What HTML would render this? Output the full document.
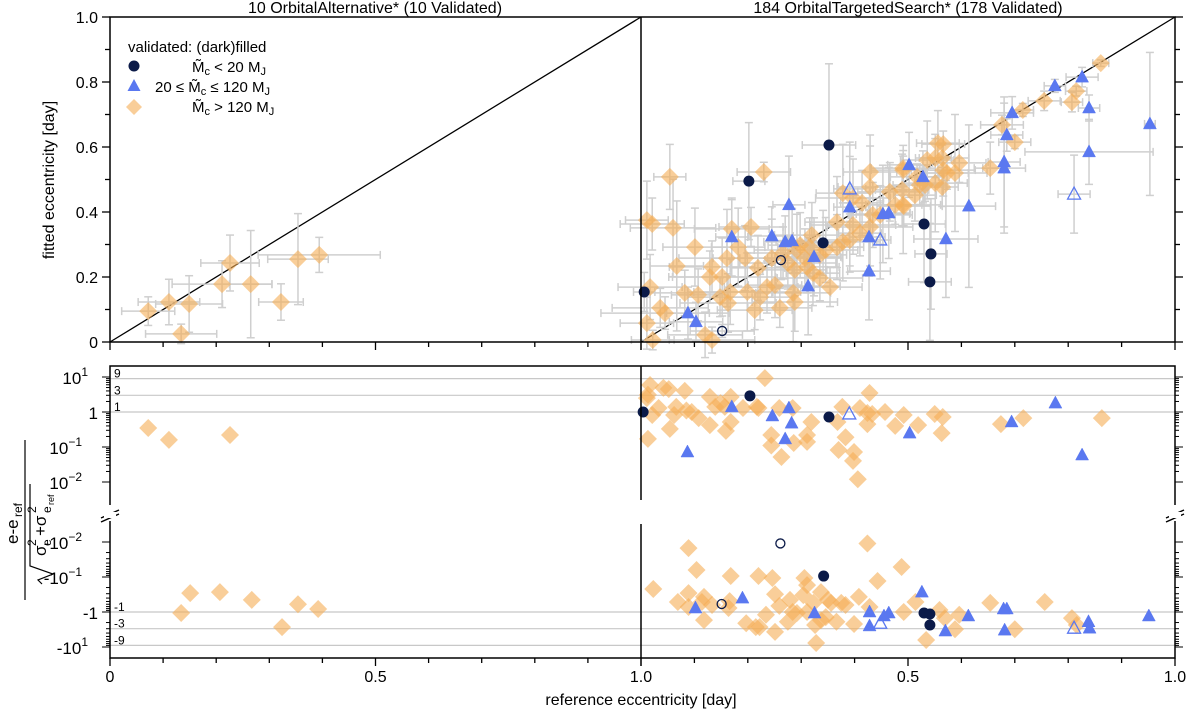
<!DOCTYPE html>
<html><head><meta charset="utf-8"><style>
html,body{margin:0;padding:0;background:#fff;}
svg{display:block;font-family:"Liberation Sans",Arial,sans-serif;}
</style></head><body>
<svg id="chart" width="1200" height="721" viewBox="0 0 1200 721" xmlns="http://www.w3.org/2000/svg">
<g id="grid"></g><g id="errs"></g><g id="marks"></g><g id="axes"></g>
</svg>
<script>
// ---- Left panel (OrbitalAlternative) ----
const refL   = [0.072,0.111,0.134,0.149,0.211,0.226,0.265,0.322,0.354,0.394];
const fitL   = [0.095,0.123,0.025,0.117,0.178,0.243,0.178,0.123,0.255,0.268];
const refErrL= [0.050,0.058,0.067,0.063,0.094,0.055,0.040,0.042,0.057,0.115];
const fitErrL= [0.044,0.070,0.030,0.087,0.072,0.086,0.165,0.056,0.140,0.054];
const resRefL= [0.072,0.111,0.134,0.151,0.207,0.226,0.267,0.324,0.354,0.392];
const residL = [0.35,0.16,-1.07,-0.29,-0.27,0.22,-0.45,-2.7,-0.6,-0.82];

// ---- Right panel orange (Mc > 120) ----
const refO=[0.054,0.230,0.011,0.021,0.060,0.067,0.170,0.206,0.182,0.133,0.161,0.195,0.129,0.152,0.167,0.148,0.107,0.082,0.017,0.036,0.045,0.011,0.022,0.120,0.133,0.163,0.199,0.213,0.223,0.236,0.251,0.260,0.288,0.285,0.219,0.245,0.275,0.292,0.316,0.320,0.311,0.322,0.335,0.354,0.367,0.378,0.367,0.397,0.378,0.397,0.414,0.429,0.429,0.429,0.434,0.466,0.489,0.491,0.491,0.536,0.551,0.556,0.266,0.298,0.861,0.815,0.807,0.755,0.715,0.676,0.700,0.654,0.596,0.588,0.566,0.551,0.564,0.566,0.573,0.564,0.532,0.517,0.491,0.492,0.288,0.307,0.335,0.346,0.391,0.410,0.448,0.476,0.513,0.522,0.101];
const fitO=[0.508,0.523,0.375,0.363,0.351,0.234,0.348,0.354,0.292,0.231,0.258,0.258,0.200,0.200,0.154,0.138,0.145,0.151,0.169,0.105,0.089,0.058,0.006,0.022,0.006,0.120,0.154,0.098,0.138,0.169,0.175,0.105,0.123,0.151,0.228,0.258,0.243,0.283,0.292,0.329,0.231,0.212,0.197,0.169,0.292,0.308,0.369,0.360,0.458,0.443,0.428,0.523,0.477,0.354,0.391,0.462,0.468,0.422,0.529,0.560,0.489,0.612,0.274,0.298,0.858,0.772,0.738,0.742,0.714,0.668,0.615,0.535,0.551,0.520,0.609,0.566,0.566,0.529,0.520,0.477,0.483,0.508,0.535,0.418,0.222,0.258,0.268,0.283,0.314,0.335,0.391,0.422,0.452,0.483,0.292];
const xeO=[0.030,0.050,0.040,0.060,0.080,0.050,0.070,0.060,0.050,0.080,0.090,0.060,0.070,0.100,0.080,0.060,0.050,0.070,0.060,0.090,0.120,0.050,0.040,0.070,0.080,0.090,0.100,0.070,0.060,0.080,0.050,0.060,0.080,0.070,0.050,0.060,0.090,0.080,0.060,0.070,0.060,0.050,0.080,0.060,0.050,0.070,0.060,0.080,0.050,0.070,0.040,0.050,0.060,0.080,0.040,0.060,0.050,0.070,0.060,0.050,0.060,0.040,0.070,0.060,0.015,0.020,0.020,0.030,0.020,0.040,0.030,0.030,0.050,0.060,0.040,0.030,0.050,0.060,0.040,0.030,0.040,0.050,0.060,0.050,0.060,0.070,0.050,0.060,0.050,0.040,0.060,0.050,0.040,0.050,0.060];
const yeO=[0.100,0.030,0.120,0.080,0.150,0.200,0.090,0.060,0.120,0.080,0.150,0.100,0.080,0.120,0.100,0.060,0.080,0.070,0.100,0.060,0.050,0.080,0.030,0.070,0.040,0.090,0.120,0.060,0.070,0.080,0.100,0.060,0.090,0.150,0.100,0.120,0.080,0.110,0.090,0.100,0.080,0.100,0.070,0.060,0.100,0.120,0.140,0.090,0.150,0.120,0.100,0.080,0.160,0.120,0.100,0.090,0.110,0.150,0.060,0.120,0.150,0.100,0.080,0.100,0.010,0.015,0.030,0.030,0.020,0.030,0.020,0.080,0.060,0.180,0.040,0.060,0.040,0.080,0.050,0.060,0.050,0.040,0.070,0.060,0.080,0.090,0.060,0.100,0.080,0.070,0.090,0.060,0.080,0.060,0.120];

// ---- Right panel blue triangles (20 <= Mc <= 120) ----
const refB =[0.170,0.245,0.277,0.270,0.283,0.324,0.313,0.088,0.103,0.391,0.427,0.427,0.502,0.528,0.453,0.464,0.614,0.571,0.680,0.680,0.685,0.695,0.775,0.826,0.839,0.839,0.953,0.391,0.448,0.811];
const fitB =[0.323,0.326,0.422,0.308,0.311,0.262,0.172,0.089,0.062,0.415,0.218,0.323,0.545,0.508,0.394,0.397,0.418,0.317,0.554,0.535,0.637,0.705,0.788,0.815,0.720,0.585,0.671,0.471,0.314,0.455];
const xeB  =[0.030,0.040,0.030,0.040,0.030,0.050,0.060,0.040,0.050,0.030,0.040,0.030,0.040,0.030,0.050,0.040,0.050,0.060,0.030,0.040,0.030,0.040,0.020,0.030,0.020,0.120,0.010,0.030,0.020,0.030];
const yeB  =[0.120,0.090,0.150,0.080,0.100,0.120,0.150,0.080,0.060,0.200,0.150,0.120,0.100,0.080,0.150,0.140,0.250,0.180,0.200,0.200,0.050,0.050,0.020,0.030,0.040,0.100,0.220,0.100,0.120,0.120];
const openB=[0,0,0,0,0,0,0,0,0,0,0,0,0,0,0,0,0,0,0,0,0,0,0,0,0,0,0,1,1,1];

// ---- Right panel dark circles (Mc < 20) ----
const refC =[0.352,0.202,0.006,0.341,0.530,0.543,0.541,0.262,0.152];
const fitC =[0.606,0.495,0.154,0.305,0.363,0.271,0.185,0.252,0.034];
const xeC  =[0.050,0.030,0.020,0.040,0.040,0.030,0.040,0.030,0.060];
const yeC  =[0.250,0.180,0.060,0.100,0.180,0.170,0.180,0.060,0.020];
const openC=[0,0,0,0,0,0,0,1,1];

// ---- Right residual panel ----
const resRefO=[0.017,0.013,0.042,0.052,0.082,0.232,0.011,0.033,0.021,0.062,0.066,0.085,0.095,0.108,0.054,0.013,0.129,0.129,0.139,0.149,0.157,0.168,0.168,0.159,0.191,0.217,0.220,0.259,0.284,0.244,0.244,0.263,0.286,0.311,0.311,0.319,0.368,0.377,0.383,0.370,0.399,0.397,0.406,0.410,0.428,0.424,0.424,0.433,0.457,0.476,0.492,0.519,0.550,0.565,0.563,0.674,0.716,0.863,
 0.089,0.104,0.023,0.089,0.069,0.089,0.118,0.114,0.133,0.118,0.168,0.164,0.166,0.220,0.246,0.251,0.234,0.197,0.215,0.222,0.251,0.259,0.279,0.284,0.292,0.275,0.306,0.311,0.304,0.311,0.323,0.326,0.337,0.337,0.350,0.346,0.356,0.366,0.375,0.383,0.399,0.328,0.408,0.424,0.428,0.443,0.488,0.492,0.514,0.534,0.559,0.569,0.588,0.596,0.654,0.700,0.756,0.807,0.816];
const resO=[5.9,3.1,4.9,4.5,4.0,9.3,2.5,1.3,0.82,0.82,1.4,1.1,1.0,0.67,0.33,0.17,2.7,0.42,1.4,1.8,1.4,2.7,0.52,0.29,1.3,1.4,1.3,1.3,1.3,0.22,0.11,0.052,0.13,0.22,0.14,0.52,0.52,1.4,0.19,0.082,0.072,0.04,0.012,1.3,3.5,0.94,0.45,0.88,1.0,0.4,0.82,0.42,0.88,0.72,0.25,0.45,0.67,0.67,
 -0.015,-0.063,-0.22,-0.29,-0.52,-0.72,-0.37,-0.52,-0.63,-1.7,-0.094,-0.77,-0.49,-0.094,-0.107,-0.31,-1.2,-2.1,-2.7,-2.7,-3.7,-0.67,-0.45,-1.0,-1.07,-1.9,-0.107,-0.17,-0.33,-1.0,-0.55,-2.35,-0.27,-1.7,-0.45,-1.4,-0.55,-1.9,-0.55,-0.63,-2.2,-7.7,-0.37,-0.011,-0.72,-0.13,-0.052,-1.0,-0.52,-6.3,-0.88,-1.5,-3.1,-1.2,-0.55,-3.1,-0.52,-1.5,-2.35];
const resRefB=[0.170,0.246,0.277,0.282,0.270,0.087,0.503,0.694,0.776,0.826,0.390,0.102,0.190,0.325,0.428,0.428,0.455,0.464,0.526,0.570,0.613,0.679,0.685,0.681,0.838,0.840,0.951,0.448,0.811];
const resB=[1.4,0.77,1.3,0.48,0.17,0.072,0.25,0.52,1.8,0.059,0.88,-0.77,-0.4,-1.07,-1.0,-2.5,-1.3,-1.07,-0.27,-3.5,-1.3,-0.82,-0.82,-3.3,-1.9,-2.9,-1.3,-2.1,-2.9];
const resOpenB=[0,0,0,0,0,0,0,0,0,0,1,0,0,0,0,0,0,0,0,0,0,0,0,0,0,0,0,1,1];
const resRefC=[0.204,0.352,0.004,0.342,0.530,0.541,0.541,0.261,0.151];
const resC=[2.9,0.72,1.0,-0.094,-1.07,-1.14,-2.35,-0.011,-0.59];
const resOpenC=[0,0,0,0,0,0,0,1,1];

const NS="http://www.w3.org/2000/svg";
const gGrid=document.getElementById('grid'),gErr=document.getElementById('errs'),gMk=document.getElementById('marks'),gAx=document.getElementById('axes');
function mk(tag,attrs,parent){const e=document.createElementNS(NS,tag);for(const k in attrs)e.setAttribute(k,attrs[k]);parent.appendChild(e);return e;}
const xL=v=>110+v*531, xR=v=>641+v*534, yT=v=>342-v*325;
const yRes=v=>v>0?412-Math.log10(v)*35:612+Math.log10(-v)*35;
const ORANGE="#f5ad55",BLUE="#5a78f0",DARK="#0b1a48",GRAY="#cfcfcf";

function errbar(cx,cy,x0,x1,y0,y1){
  const g=mk('g',{},gErr);
  
  
  mk('line',{x1:x0,y1:cy,x2:x1,y2:cy,stroke:GRAY,'stroke-width':1.5},g);
  mk('line',{x1:cx,y1:y0,x2:cx,y2:y1,stroke:GRAY,'stroke-width':1.5},g);
  [[x0,cy,0],[x1,cy,0],[cx,y0,1],[cx,y1,1]].forEach(([a,b,v])=>{
    if(v)mk('line',{x1:a-4,y1:b,x2:a+4,y2:b,stroke:GRAY,'stroke-width':1.5},g);
    else mk('line',{x1:a,y1:b-4,x2:a,y2:b+4,stroke:GRAY,'stroke-width':1.5},g);
  });
}
function diamond(cx,cy,name){const s=9;const e=mk('polygon',{points:`${cx},${cy-s} ${cx+s},${cy} ${cx},${cy+s} ${cx-s},${cy}`,fill:ORANGE,'fill-opacity':0.6},gMk);
  
  }
function tri(cx,cy,open,name){const e=mk('polygon',{points:`${cx},${cy-7} ${cx+6.5},${cy+5} ${cx-6.5},${cy+5}`,fill:open?'none':BLUE,stroke:BLUE,'stroke-width':open?1.3:0.5},gMk);
  
  }
function circ(cx,cy,open,name){const e=mk('circle',{cx:cx,cy:cy,r:open?4.5:5.5,fill:open?'none':DARK,stroke:DARK,'stroke-width':open?1.3:0},gMk);
  
  }
function txt(x,y,s,attrs,name){const t=mk('text',Object.assign({x:x,y:y,'font-size':16,fill:'#000'},attrs||{}),gAx);t.textContent=s;
  
  return t;}

// grid lines in residual panel
[9,3,1,-1,-3,-9].forEach(v=>{
  mk('line',{x1:110,x2:1175,y1:yRes(v),y2:yRes(v),stroke:'#c8c8c8','stroke-width':1.2},gGrid);
  const t=mk('text',{x:114,y:yRes(v)-1,'font-size':12},gGrid);t.textContent=String(v);
  
  
});
// diagonals
mk('line',{x1:xL(0),y1:yT(0),x2:xL(1),y2:yT(1),stroke:'#000','stroke-width':1.3},gGrid);
mk('line',{x1:xR(0),y1:yT(0),x2:xR(1),y2:yT(1),stroke:'#000','stroke-width':1.3},gGrid);

// left panel
refL.forEach((r,i)=>{errbar(xL(r),yT(fitL[i]),xL(r-refErrL[i]),xL(r+refErrL[i]),yT(fitL[i]-fitErrL[i]),yT(fitL[i]+fitErrL[i]));});
refL.forEach((r,i)=>diamond(xL(r),yT(fitL[i]),'left-point'));
resRefL.forEach((r,i)=>diamond(xL(r),yRes(residL[i]),'left-residual-point'));
// right panel errors
refO.forEach((r,i)=>errbar(xR(r),yT(fitO[i]),xR(r-xeO[i]),xR(r+xeO[i]),yT(fitO[i]-yeO[i]),yT(fitO[i]+yeO[i])));
refB.forEach((r,i)=>errbar(xR(r),yT(fitB[i]),xR(r-xeB[i]),xR(r+xeB[i]),yT(fitB[i]-yeB[i]),yT(fitB[i]+yeB[i])));
refC.forEach((r,i)=>errbar(xR(r),yT(fitC[i]),xR(r-xeC[i]),xR(r+xeC[i]),yT(fitC[i]-yeC[i]),yT(fitC[i]+yeC[i])));
refO.forEach((r,i)=>diamond(xR(r),yT(fitO[i]),'orange-point'));
resRefO.forEach((r,i)=>diamond(xR(r),yRes(resO[i]),'orange-residual'));
refB.forEach((r,i)=>tri(xR(r),yT(fitB[i]),openB[i],'blue-point'));
resRefB.forEach((r,i)=>tri(xR(r),yRes(resB[i]),resOpenB[i],'blue-residual'));
refC.forEach((r,i)=>circ(xR(r),yT(fitC[i]),openC[i],'dark-point'));
resRefC.forEach((r,i)=>circ(xR(r),yRes(resC[i]),resOpenC[i],'dark-residual'));

// frames
const A={stroke:'#000','stroke-width':1.5,fill:'none'};
mk('rect',Object.assign({x:110,y:17,width:1065,height:325},A),gAx);
mk('line',Object.assign({x1:641,y1:17,x2:641,y2:342},A),gAx);
mk('path',Object.assign({d:'M110,505 L110,366 L1175,366 L1175,505 M110,521 L110,658 L1175,658 L1175,521 M641,366 L641,500 M641,524 L641,658'},A),gAx);
mk('path',Object.assign({d:'M101,518 L119,510 M101,522 L119,514 M1166,518 L1184,510 M1166,522 L1184,514'},A),gAx);
mk('rect',{x:104,y:512,width:12,height:6,fill:'#fff'},gAx);mk('rect',{x:1169,y:512,width:12,height:6,fill:'#fff'},gAx);

// top y ticks
for(let k=0;k<=10;k++){const y=yT(k/10),L=k%2==0?8:5;
  mk('line',{x1:110-L,x2:110,y1:y,y2:y,stroke:'#000','stroke-width':1.3},gAx);
  mk('line',{x1:1175,x2:1175+L,y1:y,y2:y,stroke:'#000','stroke-width':1.3},gAx);}
const yTicks=['0','0.2','0.4','0.6','0.8','1.0'];
yTicks.forEach((s,k)=>txt(98,yT(k*0.2)+6,s,{'text-anchor':'end'},'y-tick-label'));
// residual log ticks
function logTicks(sign){for(let d=-2;d<=1;d++){for(let m=1;m<10;m++){const v=m*Math.pow(10,d);if(v>10)continue;
  const y=yRes(sign*v),L=m==1?8:4;
  mk('line',{x1:110-L,x2:110,y1:y,y2:y,stroke:'#000','stroke-width':1},gAx);
  mk('line',{x1:1175,x2:1175+L,y1:y,y2:y,stroke:'#000','stroke-width':1},gAx);}}}
logTicks(1);logTicks(-1);
const resTickVals=[10,1,0.1,0.01,-0.01,-0.1,-1,-10];
const resTickBase=['10','1','10','10','-10','-10','-1','-10'];
const resTickExp=['1','','−1','−2','−2','−1','','1'];
resTickVals.forEach((v,i)=>{const t=txt(resTickExp[i]?86:98,yRes(v)+7,resTickBase[i],{'text-anchor':'end','font-size':17},'residual-tick-label');
  if(resTickExp[i]){const s=mk('tspan',{dy:-8,'font-size':12},t);s.textContent=resTickExp[i];t.setAttribute('x',resTickExp[i].length>1?82:88);}});
// x ticks
for(let k=0;k<=10;k++){const L=k%5==0?8:5;
  [xL(k/10),xR(k/10)].forEach(x=>{mk('line',{x1:x,x2:x,y1:658,y2:658+L,stroke:'#000','stroke-width':1.3},gAx);
  mk('line',{x1:x,x2:x,y1:342,y2:342+L,stroke:'#000','stroke-width':1.3},gAx);});}
const xTickLabels=['0','0.5','1.0'];
xTickLabels.forEach((s,k)=>txt(xL(k*0.5),682,s,{'text-anchor':'middle'},'x-tick-label'));
txt(xR(0.5),682,'0.5',{'text-anchor':'middle'},'x-tick-label');
txt(xR(1),682,'1.0',{'text-anchor':'middle'},'x-tick-label');
txt(641,705,'reference eccentricity [day]',{'text-anchor':'middle'},'x-axis-title');
txt(375,13,'10 OrbitalAlternative* (10 Validated)',{'text-anchor':'middle'},'left-panel-title');
txt(908,13,'184 OrbitalTargetedSearch* (178 Validated)',{'text-anchor':'middle'},'right-panel-title');
txt(0,0,'fitted eccentricity [day]',{'text-anchor':'middle',transform:'translate(54,180) rotate(-90)'},'y-axis-title');
// residual y label (fraction)
const gf=mk('g',{transform:'translate(22,512) rotate(-90)','font-family':'Liberation Sans, sans-serif'},gAx);


function ft(x,y,s,size){const t=mk('text',{x:x,y:y,'font-size':size},gf);t.textContent=s;return t;}
ft(-32,-4,'e-e',17);ft(-5,0,'ref',12);
mk('line',{x1:-88,x2:72,y1:3,y2:3,stroke:'#000','stroke-width':1.2},gf);
ft(-44,24,'σ',17);ft(-34,14,'2',12);ft(-34,29,'e',12);
ft(-24,24,' +σ',17);ft(-1,14,'2',12);ft(-1,29,'e',12);ft(7,32,'ref',9);
mk('path',{d:'M-72,20 L-68,16 L-62,31 L-54,8 L28,8',stroke:'#000','stroke-width':1.2,fill:'none'},gf);

// legend
const lg=mk('g',{},gAx);


let lt=mk('text',{x:128,y:52,'font-size':15},lg);lt.textContent='validated: (dark)filled';
mk('circle',{cx:134,cy:66,r:5.5,fill:DARK},lg);
mk('polygon',{points:'134,79 140.5,91 127.5,91',fill:BLUE},lg);
mk('polygon',{points:'134,99 142,107 134,115 126,107',fill:ORANGE,'fill-opacity':0.6},lg);
let l1=mk('text',{x:192,y:72,'font-size':15},lg);l1.innerHTML='M̃<tspan font-size="11" dy="3">c</tspan><tspan dy="-3"> &lt;   20 M</tspan><tspan font-size="11" dy="3">J</tspan>';
let l2=mk('text',{x:155,y:92,'font-size':15},lg);l2.innerHTML='20 ≤ M̃<tspan font-size="11" dy="3">c</tspan><tspan dy="-3"> ≤ 120 M</tspan><tspan font-size="11" dy="3">J</tspan>';
let l3=mk('text',{x:192,y:112,'font-size':15},lg);l3.innerHTML='M̃<tspan font-size="11" dy="3">c</tspan><tspan dy="-3"> &gt; 120 M</tspan><tspan font-size="11" dy="3">J</tspan>';
[lt,l1,l2,l3].forEach(e=>{});
</script>
</body></html>
